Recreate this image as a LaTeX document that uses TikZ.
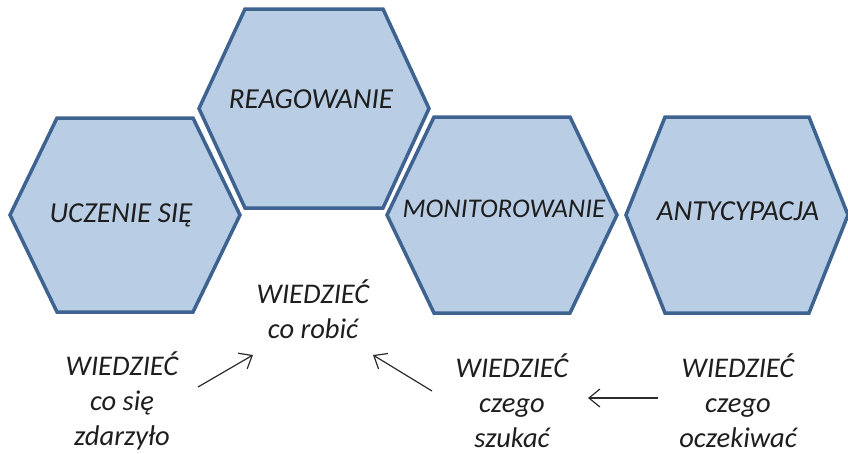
\documentclass[tikz,border=0pt]{standalone}
\usepackage{fontspec}
\setmainfont{Carlito}
\usetikzlibrary{arrows.meta}
\definecolor{hexfill}{HTML}{B9CDE5}
\definecolor{hexdraw}{HTML}{3E6391}
\definecolor{txt}{HTML}{1E1E1E}
\definecolor{arrcol}{HTML}{2B2B2B}
\newcommand{\hexshape}[5]{%
  \draw[hexstyle] (#1-#5,#2-#4) -- (#1+#5,#2-#4) -- (#1+#3,#2) -- (#1+#5,#2+#4) -- (#1-#5,#2+#4) -- (#1-#3,#2) -- cycle;}
\begin{document}
\begin{tikzpicture}[x=1pt,y=-1pt,
  hexstyle/.style={fill=hexfill,draw=hexdraw,line width=3.5pt,line join=miter},
  hexlabel/.style={font=\itshape\fontsize{29}{35}\selectfont,text=txt,inner sep=0pt,anchor=base},
  knowlabel/.style={font=\itshape\fontsize{28.5}{35}\selectfont,text=txt,inner sep=0pt,anchor=base,align=center},
  arr/.style={draw=arrcol,line width=1.2pt,-{Straight Barb[length=11pt,width=18pt]}}]
\useasboundingbox (0,0) rectangle (848,453);
\hexshape{125}{215}{115}{97}{68}
\hexshape{502}{215}{115}{98}{68}
\hexshape{737}{215}{111}{98}{72}
\hexshape{314}{108.5}{115}{99.5}{69}
\node[hexlabel] (uczenie) at (121,222) {UCZENIE SIĘ};
\node[hexlabel] (reag) at (311,108) {REAGOWANIE};
\node[hexlabel,font=\itshape\fontsize{27}{35}\selectfont] (monit) at (504,217) {MONITOROWANIE};
\node[hexlabel] (antyc) at (738,220) {ANTYCYPACJA};
\node[knowlabel] (k1) at (122,445) {WIEDZIEĆ\\co się\\zdarzyło};
\node[knowlabel] (k2) at (313,338) {WIEDZIEĆ\\co robić};
\node[knowlabel] (k3) at (512,447) {WIEDZIEĆ\\czego\\szukać};
\node[knowlabel] (k4) at (738,447) {WIEDZIEĆ\\czego\\oczekiwać};
\coordinate (a1s) at (198,387);
\coordinate (a1e) at (253,355);
\coordinate (a2s) at (432,391);
\coordinate (a2e) at (373,355);
\coordinate (a3s) at (658,398);
\coordinate (a3e) at (588,398);
\draw[arr] (a1s) -- (a1e);
\draw[arr] (a2s) -- (a2e);
\draw[arr] (a3s) -- (a3e);
\end{tikzpicture}
\end{document}
